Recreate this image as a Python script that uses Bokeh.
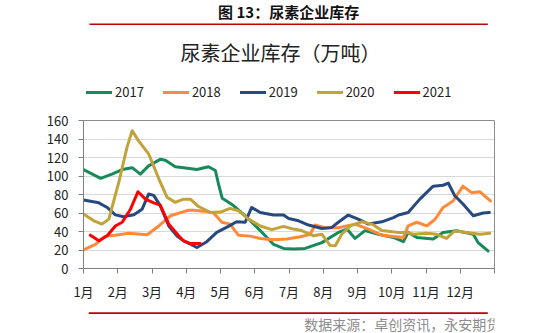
from bokeh.plotting import figure
from bokeh.models import Range1d, FixedTicker, Legend, LegendItem, Label, LinearAxis, Span
from bokeh.layouts import column
from bokeh.core.properties import value
from bokeh.embed import file_html
from bokeh.resources import INLINE

FONT = "Noto Sans CJK SC"

# ---------------- data (x in months from Jan 1, values in 万吨) ----------------
month_labels = ["1月", "2月", "3月", "4月", "5月", "6月", "7月", "8月", "9月", "10月", "11月", "12月"]
y_ticks = [0, 20, 40, 60, 80, 100, 120, 140, 160]
Y_MAX = 160

x_2017 = [0, 0.5, 0.83, 1.13, 1.42, 1.66, 1.9, 2.24, 2.39, 2.68, 2.92, 3.31, 3.65, 3.85, 3.95, 4.05,
          4.38, 4.72, 5.16, 5.55, 5.84, 6.13, 6.47, 6.96, 7.44, 7.69, 7.93, 8.22, 8.61, 9.05, 9.34,
          9.48, 9.73, 10.21, 10.5, 10.89, 11.38, 11.52, 11.81]
v_2017 = [107, 97.5, 102, 107, 109, 102, 111, 118, 117, 110, 109, 107, 110, 106, 90, 76,
          68, 57, 41, 26, 21.7, 21, 21.7, 28, 39, 42.6, 32.5, 41, 37, 33.6, 29,
          39, 33.6, 31.8, 39, 40.8, 37, 28, 19]

x_2018 = [0, 0.35, 0.64, 0.93, 1.32, 1.86, 2.2, 2.54, 2.88, 3.07, 3.21, 3.51, 3.8, 4.04, 4.28, 4.52,
          4.87, 5.16, 5.55, 5.94, 6.37, 6.62, 6.76, 7.05, 7.44, 7.93, 8.32, 8.71, 9.05, 9.34, 9.48,
          9.73, 10.02, 10.26, 10.5, 10.79, 11.08, 11.33, 11.57, 11.88]
v_2018 = [20, 26, 35, 36, 38, 36.5, 46, 57, 61, 63, 63, 62, 60, 50, 48, 36,
          35, 32.5, 31, 31.8, 34.6, 37, 47, 44, 44, 48, 42.6, 36, 34.6, 33.6, 46,
          50, 46, 53, 66, 73, 89, 82, 83, 73]

x_2019 = [0, 0.45, 0.69, 0.93, 1.17, 1.47, 1.71, 1.9, 2.05, 2.24, 2.49, 2.73, 2.92, 3.31, 3.6, 3.89,
          4.23, 4.47, 4.72, 4.91, 5.16, 5.55, 5.84, 5.99, 6.28, 6.57, 6.96, 7.25, 7.44, 7.73, 8.02,
          8.32, 8.71, 9.05, 9.2, 9.48, 9.82, 10.21, 10.5, 10.65, 10.84, 11.08, 11.38, 11.67, 11.85]
v_2019 = [74, 71, 66, 58, 56, 58, 64, 80.5, 79, 68, 46, 35, 30, 22.7, 29, 39,
          45.5, 50.5, 50, 66, 60.6, 57.8, 57.8, 54, 51.6, 47, 43.3, 44.4, 50, 57.8, 53.4,
          48, 50.5, 55, 57.8, 60.6, 75, 89, 90, 92.4, 78.7, 69.7, 57, 60, 60.6]

x_2020 = [0, 0.3, 0.54, 0.74, 1.03, 1.27, 1.42, 1.61, 1.9, 2.2, 2.44, 2.68, 2.92, 3.12, 3.36, 3.7,
          4.0, 4.28, 4.52, 4.82, 5.16, 5.5, 5.84, 6.13, 6.37, 6.72, 6.96, 7.2, 7.35, 7.54, 7.79,
          8.12, 8.42, 8.71, 9.2, 9.44, 9.63, 10.02, 10.31, 10.6, 10.84, 11.18, 11.57, 11.86]
v_2020 = [59, 51.6, 48, 53.4, 93, 131, 149, 138, 124, 97, 77, 71.5, 75, 75, 67, 60.6,
          61, 65, 62.5, 53.4, 46, 42, 45.5, 42.6, 41, 35.4, 37, 25, 24.5, 37, 46,
          50.5, 48, 41, 39, 39, 37, 38, 37, 32.5, 40.8, 39, 37, 38]

x_2021 = [0.2, 0.45, 0.69, 0.93, 1.13, 1.37, 1.59, 1.81, 2.05, 2.24, 2.49, 2.78, 2.92, 3.12, 3.41]
v_2021 = [36, 30, 35.4, 46, 50, 64, 83, 75, 71, 68.6, 48, 35.4, 30, 27, 27]

series = [
    ("2017", x_2017, v_2017, "#178A5C"),
    ("2018", x_2018, v_2018, "#FF8A3A"),
    ("2019", x_2019, v_2019, "#264A80"),
    ("2020", x_2020, v_2020, "#C1A33A"),
    ("2021", x_2021, v_2021, "#FF0000"),
]

W = 551
RED = "#C00000"
BORDER = "#8C8C8C"

# ---------------- header: caption, rule, title ----------------
HH = 66
hp = figure(width=W, height=HH, x_range=Range1d(0, W), y_range=Range1d(HH, 0),
            output_backend="svg", toolbar_location=None,
            min_border=0, min_border_left=0, min_border_right=0, min_border_top=0, min_border_bottom=0)
hp.axis.visible = False
hp.grid.visible = False
hp.outline_line_color = None

hp.add_layout(Label(x=275, y=11, text="图 13：尿素企业库存", text_align="center", text_baseline="middle",
                    text_font=FONT, text_font_size="15px", text_font_style="bold", text_color="#111111"))
hp.segment(x0=[8], y0=[23.8], x1=[542], y1=[23.8], line_color=RED, line_width=1.6)
hp.add_layout(Label(x=264, y=52, text="尿素企业库存（万吨）", text_align="center", text_baseline="middle",
                    text_font=FONT, text_font_size="20px", text_color="#222222"))

# ---------------- main chart (frame extends up to hold the legend) ----------------
FRAME_H = 188          # 148 px for 0..160 plus room for the legend
PLOT_H = 148
y_top = Y_MAX * FRAME_H / PLOT_H

p = figure(width=W, height=14 + FRAME_H + 35, x_range=Range1d(0, 12), y_range=Range1d(0, y_top),
           output_backend="svg", toolbar_location=None,
           min_border_left=83, min_border_right=57, min_border_top=14, min_border_bottom=35)
p.xgrid.visible = False
p.ygrid.grid_line_color = "#D9D9D9"
p.ygrid.grid_line_width = 1
p.outline_line_color = None

p.yaxis.ticker = FixedTicker(ticks=y_ticks)
p.yaxis.bounds = (0, Y_MAX)
p.xaxis.ticker = FixedTicker(ticks=list(range(13)))
overrides = {i: lab for i, lab in enumerate(month_labels)}
overrides[12] = ""
p.xaxis.major_label_overrides = overrides

for ax in (p.xaxis, p.yaxis):
    ax.axis_line_color = "#7F7F7F"
    ax.major_tick_line_color = "#7F7F7F"
    ax.minor_tick_line_color = None
    ax.major_tick_in = 0
    ax.major_tick_out = 5
    ax.major_label_text_font = FONT
    ax.major_label_text_font_size = "13px"
    ax.major_label_text_color = "#222222"
p.xaxis.major_label_standoff = 8
p.yaxis.major_label_standoff = 10

# right and top border of the plot area
right_axis = LinearAxis(bounds=(0, Y_MAX), ticker=FixedTicker(ticks=[]),
                        axis_line_color=BORDER, major_tick_line_color=None,
                        minor_tick_line_color=None, major_label_text_font_size="0px")
p.add_layout(right_axis, "right")
p.add_layout(Span(location=Y_MAX, dimension="width", line_color=BORDER, line_width=1))

items = []
for name, xs, vs, col in series:
    r = p.line(x=xs, y=vs, line_color=col, line_width=3, line_join="round", line_cap="round")
    items.append(LegendItem(label=name, renderers=[r]))

legend = Legend(items=items, orientation="horizontal", location=(3, 167),
                glyph_width=26, glyph_height=16, label_standoff=3, spacing=19,
                padding=0, margin=0, border_line_color=None, background_fill_alpha=0,
                label_text_font=FONT, label_text_font_size="13px", label_text_color="#222222")
p.add_layout(legend, "center")

# ---------------- footer: rule + source ----------------
FH = 30
fp = figure(width=W, height=FH, x_range=Range1d(0, W), y_range=Range1d(FH, 0),
            output_backend="svg", toolbar_location=None,
            min_border=0, min_border_left=0, min_border_right=0, min_border_top=0, min_border_bottom=0)
fp.axis.visible = False
fp.grid.visible = False
fp.outline_line_color = None
fp.segment(x0=[7], y0=[9.6], x1=[542], y1=[9.6], line_color=RED, line_width=1.6)
fp.add_layout(Label(x=296, y=20.5, text="数据来源：卓创资讯，永安期货研究院", text_align="left",
                    text_baseline="middle", text_font=FONT, text_font_size="14px", text_color="#8C8C8C"))

layout = column(hp, p, fp, spacing=0)
open("out.html", "w").write(file_html(layout, INLINE))
